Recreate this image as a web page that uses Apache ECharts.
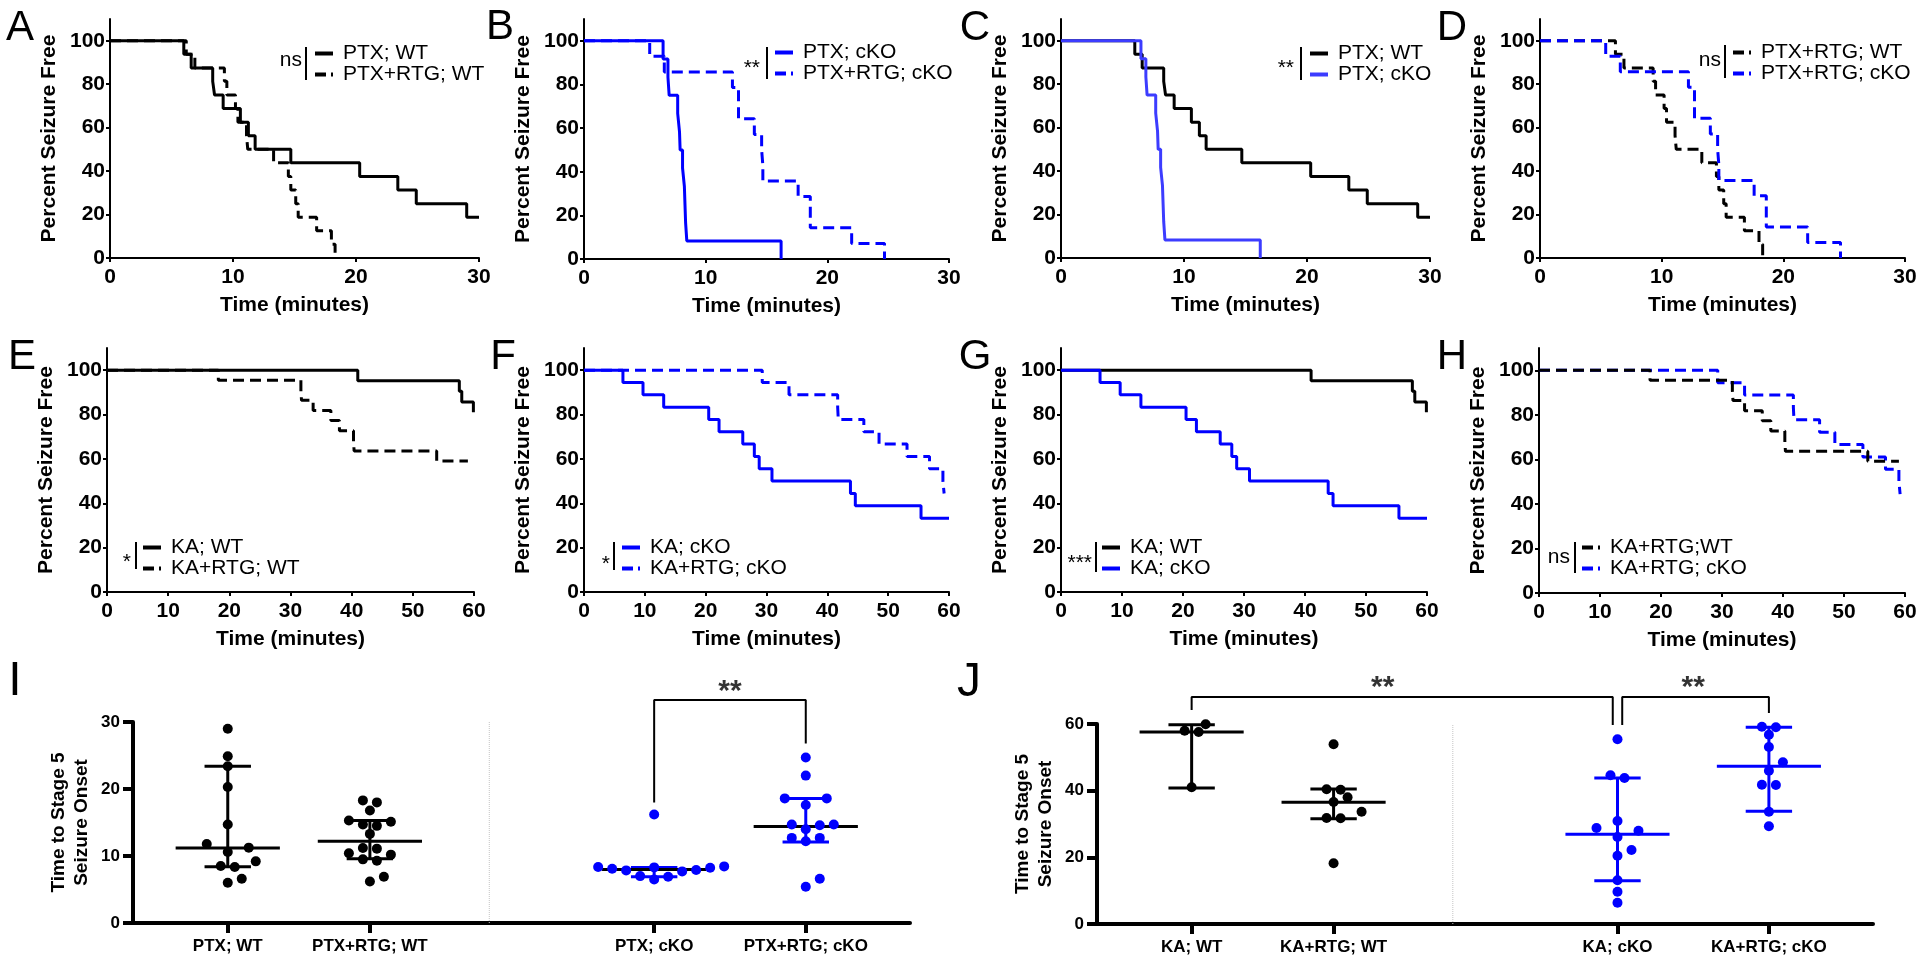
<!DOCTYPE html>
<html>
<head>
<meta charset="utf-8">
<script src="https://cdn.jsdelivr.net/npm/echarts@6.0.0/dist/echarts.min.js"></script>
<style>
html, body { margin: 0; padding: 0; background: #fff; }
#main { width: 1920px; height: 963px; }
</style>
</head>
<body>
<div id="main"></div>
<script>
// onset times (minutes) of each animal that seized, and % seizure free after each drop
var ptxWtTime = [6.0, 6.6, 8.35, 8.5, 9.2, 10.6, 11.25, 11.8, 14.7, 20.3, 23.4, 24.9, 29.0];
var ptxWtPct = [93.8, 87.5, 81.3, 75.0, 68.8, 62.5, 56.3, 50.0, 43.8, 37.5, 31.3, 25.0, 18.8];
var ptxRtgWtTime = [6.2, 6.9, 9.3, 9.5, 10.2, 10.4, 11.1, 11.2, 13.3, 14.5, 14.7, 15.1, 15.3, 16.8, 18.0, 18.3];
var ptxRtgWtPct = [93.8, 87.5, 81.3, 75.0, 68.8, 62.5, 56.3, 50.0, 43.8, 37.5, 31.3, 25.0, 18.8, 12.5, 6.3, 0];
var ptxKoTime = [6.5, 6.9, 7.0, 7.7, 7.85, 7.9, 8.1, 8.25, 8.3, 8.35, 8.45, 16.2];
var ptxKoPct = [91.7, 83.3, 75.0, 66.7, 58.3, 50.0, 41.7, 33.3, 25.0, 16.7, 8.3, 0];
var ptxRtgKoTime = [5.4, 6.6, 12.2, 12.7, 12.7, 14.0, 14.6, 14.7, 14.7, 17.6, 18.6, 18.6, 22.0, 24.7];
var ptxRtgKoPct = [92.9, 85.7, 78.6, 71.4, 64.3, 57.1, 50.0, 42.9, 35.7, 28.6, 21.4, 14.3, 7.1, 0];

var kaWtTime = [41.0, 57.6, 58.0, 59.9];
var kaWtPct = [95.2, 90.5, 85.7, 81.0];
var kaRtgWtTime = [18.2, 31.7, 31.8, 33.7, 36.6, 38.0, 40.3, 40.4, 53.9];
var kaRtgWtPct = [95.5, 90.9, 86.4, 81.8, 77.3, 72.7, 68.2, 63.6, 59.1];
var kaKoTime = [6.4, 9.7, 13.1, 20.5, 22.2, 26.1, 28.0, 28.8, 30.9, 43.8, 44.6, 55.4];
var kaKoPct = [94.4, 88.9, 83.3, 77.8, 72.2, 66.7, 61.1, 55.6, 50.0, 44.4, 38.9, 33.3];
var kaRtgKoTime = [29.3, 33.7, 41.7, 41.8, 46.0, 48.5, 53.1, 56.8, 59.0, 59.2];
var kaRtgKoPct = [94.4, 88.9, 83.3, 77.8, 72.2, 66.7, 61.1, 55.6, 50.0, 44.4];

// time where follow-up ends for each curve (null = curve ends at last seizure)
var ptxEnd = [30, null, null, null];
var kaEnd = [60, 59.0, 60, 59.2];

// scatter panels I and J: median and interquartile range
var ptxCats = ['PTX; WT', 'PTX+RTG; WT', 'PTX; cKO', 'PTX+RTG; cKO'];
var ptxMed = [11.2, 12.2, 8.0, 14.4];
var ptxQ1 = [8.4, 9.6, 6.9, 12.1];
var ptxQ3 = [23.4, 15.3, 8.3, 18.6];
var kaCats = ['KA; WT', 'KA+RTG; WT', 'KA; cKO', 'KA+RTG; cKO'];
var kaMed = [57.6, 36.5, 26.9, 47.3];
var kaQ1 = [40.8, 31.6, 13.0, 33.8];
var kaQ3 = [59.8, 40.5, 43.8, 59.0];

var catPos = [1, 2.5, 5.5, 7.1];
var dividerPos = 3.76;

var FONT = '"Liberation Sans", Arial, sans-serif';
var BLUE = '#0000ff';
var BLUE_C = '#3c3cff';
var DASH = [11, 6];
var SOLID_ICON = 'path://M0,0H18V4H0Z';
var DASH_ICON = 'path://M0,0H11V4H0Z M16,0H18V4H16Z';

var curves = {
    'PTX; WT': { t: ptxWtTime, s: ptxWtPct, end: ptxEnd[0], color: '#000', dashed: false },
    'PTX+RTG; WT': { t: ptxRtgWtTime, s: ptxRtgWtPct, end: ptxEnd[1], color: '#000', dashed: true },
    'PTX; cKO': { t: ptxKoTime, s: ptxKoPct, end: ptxEnd[2], color: BLUE, dashed: false },
    'PTX+RTG; cKO': { t: ptxRtgKoTime, s: ptxRtgKoPct, end: ptxEnd[3], color: BLUE, dashed: true },
    'KA; WT': { t: kaWtTime, s: kaWtPct, end: kaEnd[0], color: '#000', dashed: false },
    'KA+RTG; WT': { t: kaRtgWtTime, s: kaRtgWtPct, end: kaEnd[1], color: '#000', dashed: true },
    'KA+RTG;WT': { t: kaRtgWtTime, s: kaRtgWtPct, end: kaEnd[1], color: '#000', dashed: true },
    'KA; cKO': { t: kaKoTime, s: kaKoPct, end: kaEnd[2], color: BLUE, dashed: false },
    'KA+RTG; cKO': { t: kaRtgKoTime, s: kaRtgKoPct, end: kaEnd[3], color: BLUE, dashed: true }
};

// layout of the 8 survival panels
var kmPanels = [
    { letter: 'A', lx: 20, ly: 28, box: [110, 19, 369, 239], xMax: 30, draw: ['PTX+RTG; WT', 'PTX; WT'], legend: ['PTX; WT', 'PTX+RTG; WT'], lg: [315, 43], sig: 'ns', sx: 302, sy: 60, bar: [306, 47, 80] },
    { letter: 'B', lx: 500, ly: 27, box: [584, 19, 365, 240], xMax: 30, draw: ['PTX+RTG; cKO', 'PTX; cKO'], legend: ['PTX; cKO', 'PTX+RTG; cKO'], lg: [775, 42], sig: '**', sx: 760, sy: 68, bar: [767, 47, 79] },
    { letter: 'C', lx: 975, ly: 28, box: [1061, 19, 369, 239], xMax: 30, draw: ['PTX; WT', 'PTX; cKO'], legend: ['PTX; WT', 'PTX; cKO'], lg: [1310, 43], sig: '**', sx: 1294, sy: 68, bar: [1301, 47, 80], blue: BLUE_C },
    { letter: 'D', lx: 1452, ly: 28, box: [1540, 19, 365, 239], xMax: 30, draw: ['PTX+RTG; WT', 'PTX+RTG; cKO'], legend: ['PTX+RTG; WT', 'PTX+RTG; cKO'], lg: [1733, 42], sig: 'ns', sx: 1721, sy: 60, bar: [1725, 45, 78] },
    { letter: 'E', lx: 22, ly: 357, box: [107, 348, 367, 244], xMax: 60, draw: ['KA+RTG; WT', 'KA; WT'], legend: ['KA; WT', 'KA+RTG; WT'], lg: [143, 537], sig: '*', sx: 131, sy: 562, bar: [136, 542, 569] },
    { letter: 'F', lx: 503, ly: 357, box: [584, 348, 365, 244], xMax: 60, draw: ['KA+RTG; cKO', 'KA; cKO'], legend: ['KA; cKO', 'KA+RTG; cKO'], lg: [622, 537], sig: '*', sx: 610, sy: 564, bar: [614, 542, 570] },
    { letter: 'G', lx: 975, ly: 357, box: [1061, 348, 366, 244], xMax: 60, draw: ['KA; WT', 'KA; cKO'], legend: ['KA; WT', 'KA; cKO'], lg: [1102, 537], sig: '***', sx: 1092, sy: 563, bar: [1096, 542, 572] },
    { letter: 'H', lx: 1452, ly: 357, box: [1539, 348, 366, 245], xMax: 60, draw: ['KA+RTG; cKO', 'KA+RTG;WT'], legend: ['KA+RTG;WT', 'KA+RTG; cKO'], lg: [1582, 537], sig: 'ns', sx: 1570, sy: 557, bar: [1575, 542, 573] }
];

var option = {
    animation: false,
    backgroundColor: '#fff',
    textStyle: { fontFamily: FONT },
    grid: [], xAxis: [], yAxis: [], legend: [], series: [],
    graphic: { elements: [] }
};

function txt(x, y, s, size, weight, align, valign) {
    option.graphic.elements.push({
        type: 'text', x: x, y: y, silent: true,
        style: { text: s, fill: '#000', fontSize: size, fontWeight: weight || 'normal', fontFamily: FONT, align: align || 'center', verticalAlign: valign || 'middle' }
    });
}

function kmLine(c) {
    var pts = [[0, 100]];
    for (var i = 0; i < c.t.length; i++) pts.push([c.t[i], c.s[i]]);
    if (c.end != null) pts.push([c.end, c.s[c.s.length - 1]]);
    return pts;
}

function curveColor(c, p) {
    return (c.color === BLUE && p.blue) ? p.blue : c.color;
}

var boldLabel = { color: '#000', fontSize: 21, fontWeight: 'bold', fontFamily: FONT };

kmPanels.forEach(function (p, i) {
    option.grid.push({ left: p.box[0], top: p.box[1], width: p.box[2], height: p.box[3], outerBoundsMode: 'none' });
    option.xAxis.push({
        type: 'value', gridIndex: i, min: 0, max: p.xMax, interval: 10,
        name: 'Time (minutes)', nameLocation: 'middle', nameGap: 37,
        nameTextStyle: boldLabel,
        axisLine: { show: true, onZero: false, lineStyle: { color: '#000', width: 2 } },
        axisTick: { show: true, length: 4, lineStyle: { color: '#000', width: 2 } },
        axisLabel: Object.assign({ margin: 9 }, boldLabel),
        splitLine: { show: false }
    });
    option.yAxis.push({
        type: 'value', gridIndex: i, min: 0, max: 110,
        name: 'Percent Seizure Free', nameLocation: 'middle', nameGap: 50,
        nameTextStyle: boldLabel,
        axisLine: { show: true, onZero: false, lineStyle: { color: '#000', width: 2 } },
        axisTick: { show: true, length: 4, customValues: [0, 20, 40, 60, 80, 100], lineStyle: { color: '#000', width: 2 } },
        axisLabel: Object.assign({ margin: 5, customValues: [0, 20, 40, 60, 80, 100] }, boldLabel),
        splitLine: { show: false }
    });
    p.draw.forEach(function (name) {
        var c = curves[name], col = curveColor(c, p);
        option.series.push({
            type: 'line', name: name, xAxisIndex: i, yAxisIndex: i,
            step: 'end', symbol: 'none', silent: true,
            data: kmLine(c),
            itemStyle: { color: col },
            lineStyle: { color: col, width: 3, type: c.dashed ? DASH : 'solid' }
        });
    });
    option.legend.push({
        left: p.lg[0], top: p.lg[1], orient: 'vertical', padding: 0,
        itemWidth: 18, itemHeight: 4, itemGap: 0, selectedMode: false,
        data: p.legend.map(function (name) {
            var c = curves[name];
            return { name: name, icon: c.dashed ? DASH_ICON : SOLID_ICON, itemStyle: { color: curveColor(c, p) } };
        }),
        textStyle: { color: '#000', fontSize: 21, fontFamily: FONT, lineHeight: 20, padding: [0, 0, 0, 5] }
    });
    txt(p.lx, p.ly, p.letter, 42);
    txt(p.sx, p.sy, p.sig, 21, 'normal', 'right');
    option.graphic.elements.push({
        type: 'rect', silent: true,
        shape: { x: p.bar[0] - 1, y: p.bar[1], width: 2, height: p.bar[2] - p.bar[1] },
        style: { fill: '#000' }
    });
});

// spread tied dots sideways like a column scatter (pixel units)
function swarm(vals, pxPerY, step, minDist, rowTol) {
    var order = vals.map(function (v, i) { return i; }).sort(function (a, b) { return vals[a] - vals[b]; });
    var rows = [];
    order.forEach(function (i) {
        var y = vals[i] * pxPerY;
        var r = rows[rows.length - 1];
        if (r && y - r.y0 < rowTol) r.items.push(i); else rows.push({ y0: y, items: [i] });
    });
    var placed = [], off = [];
    rows.forEach(function (r) {
        var k = r.items.length, half = step / 2, cands = [];
        for (var m = (k % 2 ? 0 : 1); m < 60; m += 2) {
            if (m === 0) cands.push(0); else cands.push(m * half, -m * half);
        }
        var n = 0;
        for (var c = 0; c < cands.length && n < k; c++) {
            var x = cands[c], y = vals[r.items[n]] * pxPerY;
            var ok = placed.every(function (q) { var dx = q[0] - x, dy = q[1] - y; return dx * dx + dy * dy >= minDist * minDist; });
            if (ok) { off[r.items[n]] = x; placed.push([x, y]); n++; }
        }
    });
    return off;
}

var X_MAX = 8.2;
var MED_HALF = 0.55, CAP_HALF = 0.245;

function scatterPanel(gi, box, yMax, yStep, cats, groups, med, q1, q3, medColors, barColors, dotColors, brackets, stars) {
    option.grid.push({ left: box[0], top: box[1], width: box[2], height: box[3], outerBoundsMode: 'none' });
    var lab = { color: '#000', fontSize: 17, fontWeight: 'bold', fontFamily: FONT };
    option.xAxis.push({
        type: 'value', gridIndex: gi, min: 0, max: X_MAX,
        axisLine: { show: true, onZero: false, lineStyle: { color: '#000', width: 4 } },
        axisTick: { show: true, length: 10, customValues: catPos, lineStyle: { color: '#000', width: 4 } },
        axisLabel: Object.assign({
            margin: 15, customValues: catPos,
            formatter: function (v) {
                for (var k = 0; k < catPos.length; k++) if (Math.abs(catPos[k] - v) < 1e-6) return cats[k];
                return '';
            }
        }, lab),
        splitLine: { show: false }
    });
    option.yAxis.push({
        type: 'value', gridIndex: gi, min: 0, max: yMax, interval: yStep,
        name: 'Time to Stage 5\nSeizure Onset', nameLocation: 'middle', nameGap: 40,
        nameTextStyle: { color: '#000', fontSize: 19, fontWeight: 'bold', fontFamily: FONT, lineHeight: 23 },
        axisLine: { show: true, onZero: false, lineStyle: { color: '#000', width: 4 } },
        axisTick: { show: true, length: 10, lineStyle: { color: '#000', width: 4 } },
        axisLabel: Object.assign({ margin: 13 }, lab),
        splitLine: { show: false }
    });
    // dotted separator between WT and cKO
    option.series.push({
        type: 'line', xAxisIndex: gi, yAxisIndex: gi, symbol: 'none', silent: true,
        data: [[dividerPos, 0], [dividerPos, yMax]],
        lineStyle: { color: '#c4c4c4', width: 1, type: 'dotted' }
    });
    var pxPerX = box[2] / X_MAX, pxPerY = box[3] / yMax;
    groups.forEach(function (vals, k) {
        option.series.push({
            type: 'custom', xAxisIndex: gi, yAxisIndex: gi, silent: true,
            data: [[catPos[k], med[k], q1[k], q3[k]]],
            renderItem: function (params, api) {
                var x = api.value(0), m = api.value(1), lo = api.value(2), hi = api.value(3);
                function seg(a, b, col) {
                    var p1 = api.coord(a), p2 = api.coord(b);
                    return { type: 'line', shape: { x1: p1[0], y1: p1[1], x2: p2[0], y2: p2[1] }, style: { stroke: col, lineWidth: 3 } };
                }
                return {
                    type: 'group', children: [
                        seg([x, lo], [x, hi], barColors[k]),
                        seg([x - CAP_HALF, lo], [x + CAP_HALF, lo], barColors[k]),
                        seg([x - CAP_HALF, hi], [x + CAP_HALF, hi], barColors[k]),
                        seg([x - MED_HALF, m], [x + MED_HALF, m], medColors[k])
                    ]
                };
            }
        });
    });
    groups.forEach(function (vals, k) {
        var off = swarm(vals, pxPerY, 14, 10, 4);
        option.series.push({
            type: 'scatter', xAxisIndex: gi, yAxisIndex: gi, silent: true,
            symbol: 'circle', symbolSize: 10,
            itemStyle: { color: dotColors[k], opacity: 1 },
            data: vals.map(function (v, j) { return [catPos[k] + off[j] / pxPerX, v]; })
        });
    });
    brackets.forEach(function (b) {
        option.series.push({
            type: 'line', xAxisIndex: gi, yAxisIndex: gi, symbol: 'none', silent: true, clip: false,
            data: [[b.x1, b.foot1], [b.x1, b.top], [b.x2, b.top], [b.x2, b.foot2]],
            lineStyle: { color: '#000', width: 2 }
        });
    });
    option.series.push({
        type: 'scatter', xAxisIndex: gi, yAxisIndex: gi, silent: true, clip: false,
        symbolSize: 1, itemStyle: { color: 'rgba(0,0,0,0)' },
        data: stars.map(function (s) { return { value: [s.x, s.y], name: s.text }; }),
        label: { show: true, position: 'inside', formatter: '{b}', color: '#000', fontSize: 30, fontWeight: 'bold', fontFamily: FONT, offset: [0, 7] }
    });
}

var ptxBrackets = [{ x1: catPos[2], x2: catPos[3], top: 33.3, foot1: 18.0, foot2: 26.8 }];
var ptxStars = [{ x: (catPos[2] + catPos[3]) / 2, y: 35.5, text: '**' }];
var kaBrackets = [
    { x1: catPos[0], x2: catPos[2] - 0.05, top: 68.1, foot1: 64.2, foot2: 59.7 },
    { x1: catPos[2] + 0.05, x2: catPos[3], top: 68.1, foot1: 59.7, foot2: 63.3 }
];
var kaStars = [
    { x: (catPos[0] + catPos[2]) / 2 - 0.23, y: 73.0, text: '**' },
    { x: (catPos[2] + catPos[3]) / 2, y: 73.0, text: '**' }
];

scatterPanel(8, [133, 722, 777, 201], 30, 10, ptxCats,
    [ptxWtTime, ptxRtgWtTime, ptxKoTime, ptxRtgKoTime], ptxMed, ptxQ1, ptxQ3,
    ['#000', '#000', '#000', '#000'], ['#000', '#000', BLUE, BLUE], ['#000', '#000', BLUE, BLUE],
    ptxBrackets, ptxStars);
scatterPanel(9, [1097, 724, 776, 200], 60, 20, kaCats,
    [kaWtTime, kaRtgWtTime, kaKoTime, kaRtgKoTime], kaMed, kaQ1, kaQ3,
    ['#000', '#000', BLUE, BLUE], ['#000', '#000', BLUE, BLUE], ['#000', '#000', BLUE, BLUE],
    kaBrackets, kaStars);

txt(15, 682, 'I', 48);
txt(969, 683, 'J', 48);

var myChart = echarts.init(document.getElementById('main'));
myChart.setOption(option);
</script>
</body>
</html>
